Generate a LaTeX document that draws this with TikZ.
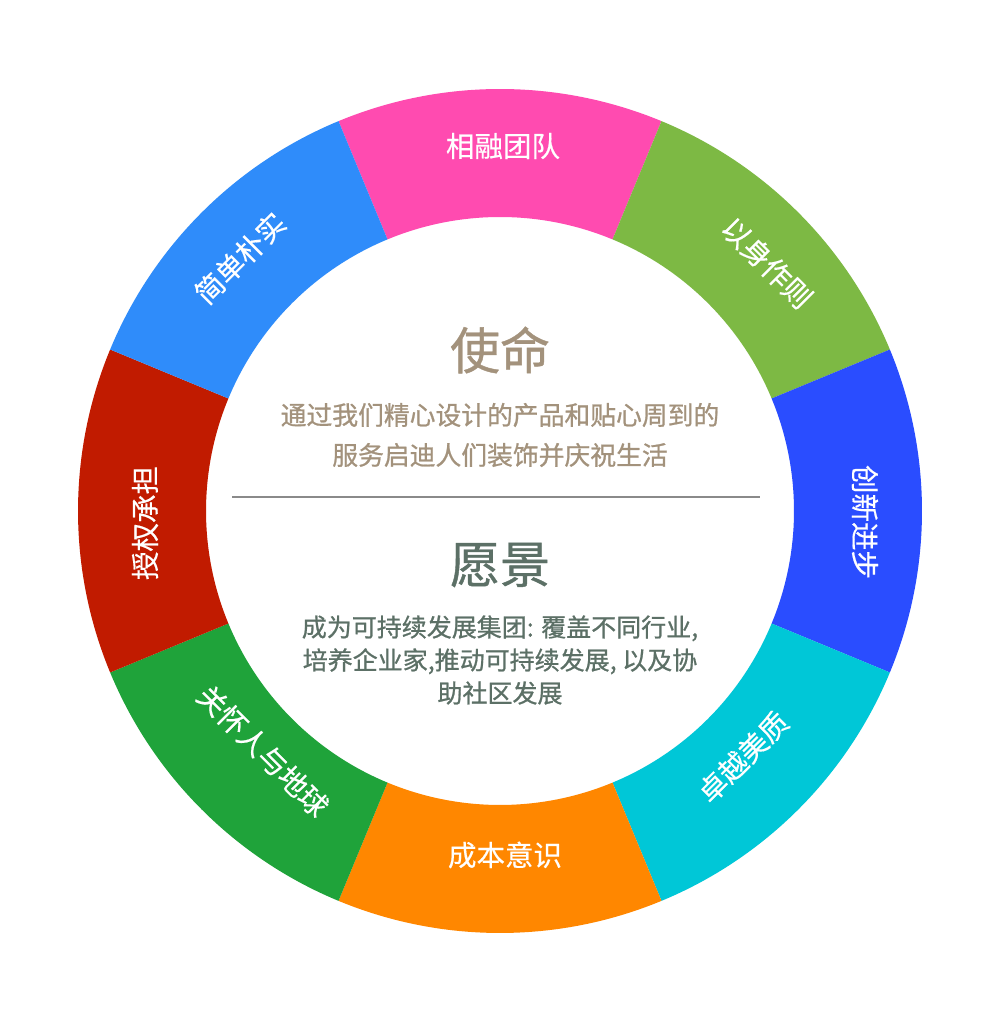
\documentclass[tikz,border=0pt]{standalone}
\usepackage{fontspec}
\setmainfont{Noto Sans CJK SC}
\newfontfamily\cjkmid{Noto Sans CJK SC}[FakeBold=0.8]
\newfontfamily\cjklight{Noto Sans CJK SC}[FakeBold=0.4]
\definecolor{segpink}{HTML}{FF4BB0}
\definecolor{segolive}{HTML}{7DB944}
\definecolor{segblue}{HTML}{2A4DFF}
\definecolor{segcyan}{HTML}{00C7D7}
\definecolor{segorange}{HTML}{FF8700}
\definecolor{seggreen}{HTML}{1FA33A}
\definecolor{segred}{HTML}{C11B00}
\definecolor{seglblue}{HTML}{2F8CFA}
\definecolor{missioncol}{HTML}{A3927C}
\definecolor{visioncol}{HTML}{5C7066}
\definecolor{rulecol}{HTML}{8A8A8A}
\tikzset{
  seglabel/.style={text=white, font=\cjklight\fontsize{28.5}{30}\selectfont, inner sep=0pt},
  titletext/.style={font=\cjkmid\fontsize{50}{54}\selectfont, inner sep=0pt},
  bodytext/.style={font=\cjkmid\fontsize{25.8}{40}\selectfont, align=center, inner sep=0pt},
  visiontext/.style={font=\cjkmid\fontsize{25}{33}\selectfont, align=center, inner sep=0pt, text=visioncol},
}
\newcommand{\ringseg}[3]{%
  \fill[#3] (#1:422pt) arc[start angle=#1, end angle=#2, radius=422pt]
    -- (#2:294pt) arc[start angle=#2, end angle=#1, radius=294pt] -- cycle;}
\begin{document}
\begin{tikzpicture}[x=1pt,y=1pt]
\useasboundingbox[fill=white] (0,0) rectangle (988,1024);
\begin{scope}[shift={(500,513)}]
  \ringseg{67.5}{112.5}{segpink}
  \ringseg{22.5}{67.5}{segolive}
  \ringseg{-22.5}{22.5}{segblue}
  \ringseg{-67.5}{-22.5}{segcyan}
  \ringseg{-112.5}{-67.5}{segorange}
  \ringseg{-157.5}{-112.5}{seggreen}
  \ringseg{157.5}{202.5}{segred}
  \ringseg{112.5}{157.5}{seglblue}
  \node[seglabel] (l1) at (3,365) {相融团队};
  \node[seglabel, rotate=-45] (l2) at (267,248) {以身作则};
  \node[seglabel, rotate=-90] (l3) at (365,-11) {创新进步};
  \node[seglabel, rotate=45] (l4) at (243,-246) {卓越美质};
  \node[seglabel] (l5) at (5,-344) {成本意识};
  \node[seglabel, rotate=-45] (l6) at (-237,-240) {关怀人与地球};
  \node[seglabel, rotate=90] (l7) at (-355,-12) {授权承担};
  \node[seglabel, rotate=45] (l8) at (-260,253) {简单朴实};
\end{scope}
\node[titletext, text=missioncol] (mission) at (500,674) {使命};
\node[bodytext, text=missioncol] (missiontext) at (500,589) {通过我们精心设计的产品和贴心周到的\\服务启迪人们装饰并庆祝生活};
\coordinate (rulea) at (232,527);
\coordinate (ruleb) at (760,527);
\draw[rulecol, line width=1.5pt] (rulea) -- (ruleb);
\node[titletext, text=visioncol] (vision) at (500,459) {愿景};
\node[visiontext] (visiontext) at (500,364) {成为可持续发展集团: 覆盖不同行业,\\培养企业家,推动可持续发展, 以及协\\助社区发展};
\end{tikzpicture}
\end{document}
